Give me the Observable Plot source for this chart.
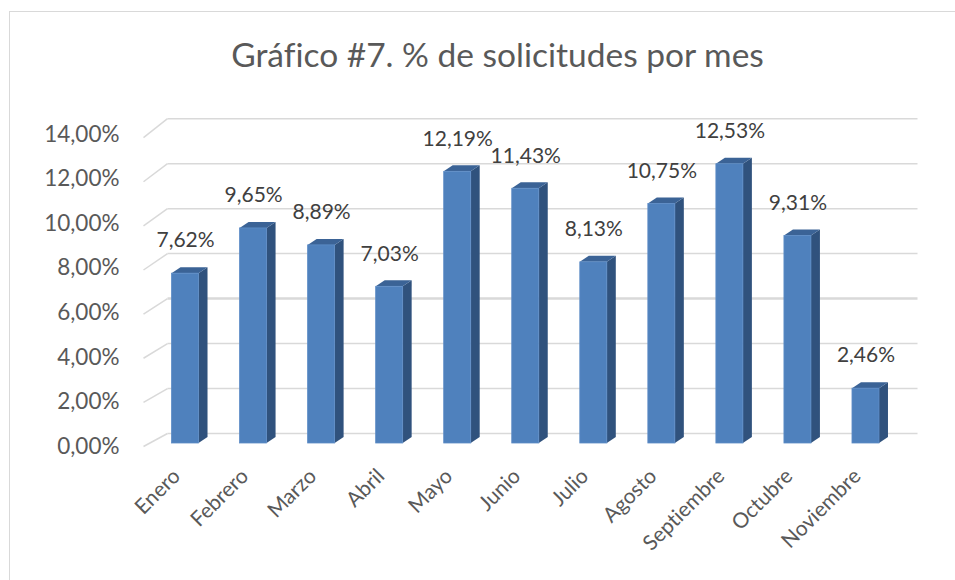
<!DOCTYPE html>
<html>
<head>
<meta charset="utf-8">
<script src="https://cdn.jsdelivr.net/npm/d3@7"></script>
<script src="https://cdn.jsdelivr.net/npm/@observablehq/plot@0.6"></script>
<style>
  html, body { margin: 0; padding: 0; background: #fff; overflow: hidden; width: 955px; height: 580px; }
  #frame { position: absolute; left: 9px; top: 11px; width: 1200px; height: 900px; border: 1px solid #d9d9d9; box-sizing: border-box; }
  #title { position: absolute; left: 0; top: 38px; width: 995px; text-align: center; font-family: Lato, sans-serif; font-size: 33.5px; line-height: 1; color: #595959; white-space: nowrap; font-variant-ligatures: none; }
  #chart { position: absolute; left: 0; top: 95px; }
  #chart svg text { font-variant-ligatures: none; }
</style>
</head>
<body>
<div id="frame"></div>
<div id="title">Gráfico #7. % de solicitudes por mes</div>
<div id="chart"></div>
<script>
const months = ["Enero", "Febrero", "Marzo", "Abril", "Mayo", "Junio", "Julio", "Agosto", "Septiembre", "Octubre", "Noviembre"];
const values = [7.62, 9.65, 8.89, 7.03, 12.19, 11.43, 8.13, 10.75, 12.53, 9.31, 2.46];
const yTicks = [0, 2, 4, 6, 8, 10, 12, 14];

const fmt = v => v.toFixed(2).replace(".", ",") + "%";

// pixel-to-data conversion for the pseudo-3D depth
const kx = 1 / 68.05;   // data units per px (x)
const ky = 1 / 22.3;    // data units per px (y)
const hw = 13.5 * kx;   // half bar width
const ddx = 9 * kx, ddy = 6 * ky; // bar depth

const bars = months.map((m, i) => ({m, i, v: values[i]}));
const sidePts = bars.flatMap(d => [
  {m: d.m, x: d.i + hw, y1: 0, y2: d.v},
  {m: d.m, x: d.i + hw + ddx, y1: ddy, y2: d.v + ddy}
]);
const topPts = bars.flatMap(d => [
  {m: d.m, x: d.i - hw, y1: d.v, y2: d.v},
  {m: d.m, x: d.i - hw + ddx, y1: d.v, y2: d.v + ddy},
  {m: d.m, x: d.i + hw, y1: d.v, y2: d.v + ddy},
  {m: d.m, x: d.i + hw + ddx, y1: d.v + ddy, y2: d.v + ddy}
]);

// walls: front edge (left) and back-wall gridlines
const backY = v => v * 1.009 + 10 * ky;
const frontY = v => v * 0.99 - 3 * ky;
const xLeft = -0.5, xRight = months.length - 0.5;

const plot = Plot.plot({
  width: 955,
  height: 485,
  marginLeft: 151,
  marginRight: 55.5,
  marginTop: 36,
  marginBottom: 137,
  style: {fontFamily: "Lato, sans-serif", fontSize: "20px", background: "transparent"},
  x: {type: "linear", domain: [xLeft, xRight], axis: null},
  y: {type: "linear", domain: [0, 14], axis: null},
  marks: [
    Plot.link(yTicks, {
      x1: xLeft - 8 * kx, y1: d => frontY(d),
      x2: xLeft + 16 * kx, y2: d => backY(d),
      stroke: "#d9d9d9", strokeWidth: 1.5
    }),
    Plot.link(yTicks, {
      x1: xLeft + 16 * kx, y1: d => backY(d),
      x2: xRight + 17.5 * kx, y2: d => backY(d),
      stroke: "#d9d9d9", strokeWidth: d => d === 6 ? 2.5 : 1.5
    }),
    Plot.axisY(yTicks, {
      anchor: "left", tickSize: 0, tickPadding: 32, dy: 3,
      tickFormat: d => d.toFixed(2).replace(".", ",") + "%",
      fontSize: 22.5, color: "#595959", label: null
    }),
    Plot.areaY(sidePts, {x: "x", y1: "y1", y2: "y2", z: "m", fill: "#30527d", curve: "linear"}),
    Plot.areaY(topPts, {x: "x", y1: "y1", y2: "y2", z: "m", fill: "#3b6396", curve: "linear"}),
    Plot.rect(bars, {x1: d => d.i - hw, x2: d => d.i + hw, y1: 0, y2: "v", fill: "#4f81bd", stroke: "#5d8cc6", strokeWidth: 0.8}),
    Plot.text(bars, {x: "i", y: "v", text: d => fmt(d.v), dy: -33, fontSize: 21, fill: "#404040"}),
    Plot.text(bars, {x: "i", frameAnchor: "bottom", text: "m", rotate: -45, textAnchor: "end", dx: -4, dy: 34, fontSize: 21, fill: "#595959"})
  ]
});
document.getElementById("chart").appendChild(plot);
</script>
</body>
</html>
